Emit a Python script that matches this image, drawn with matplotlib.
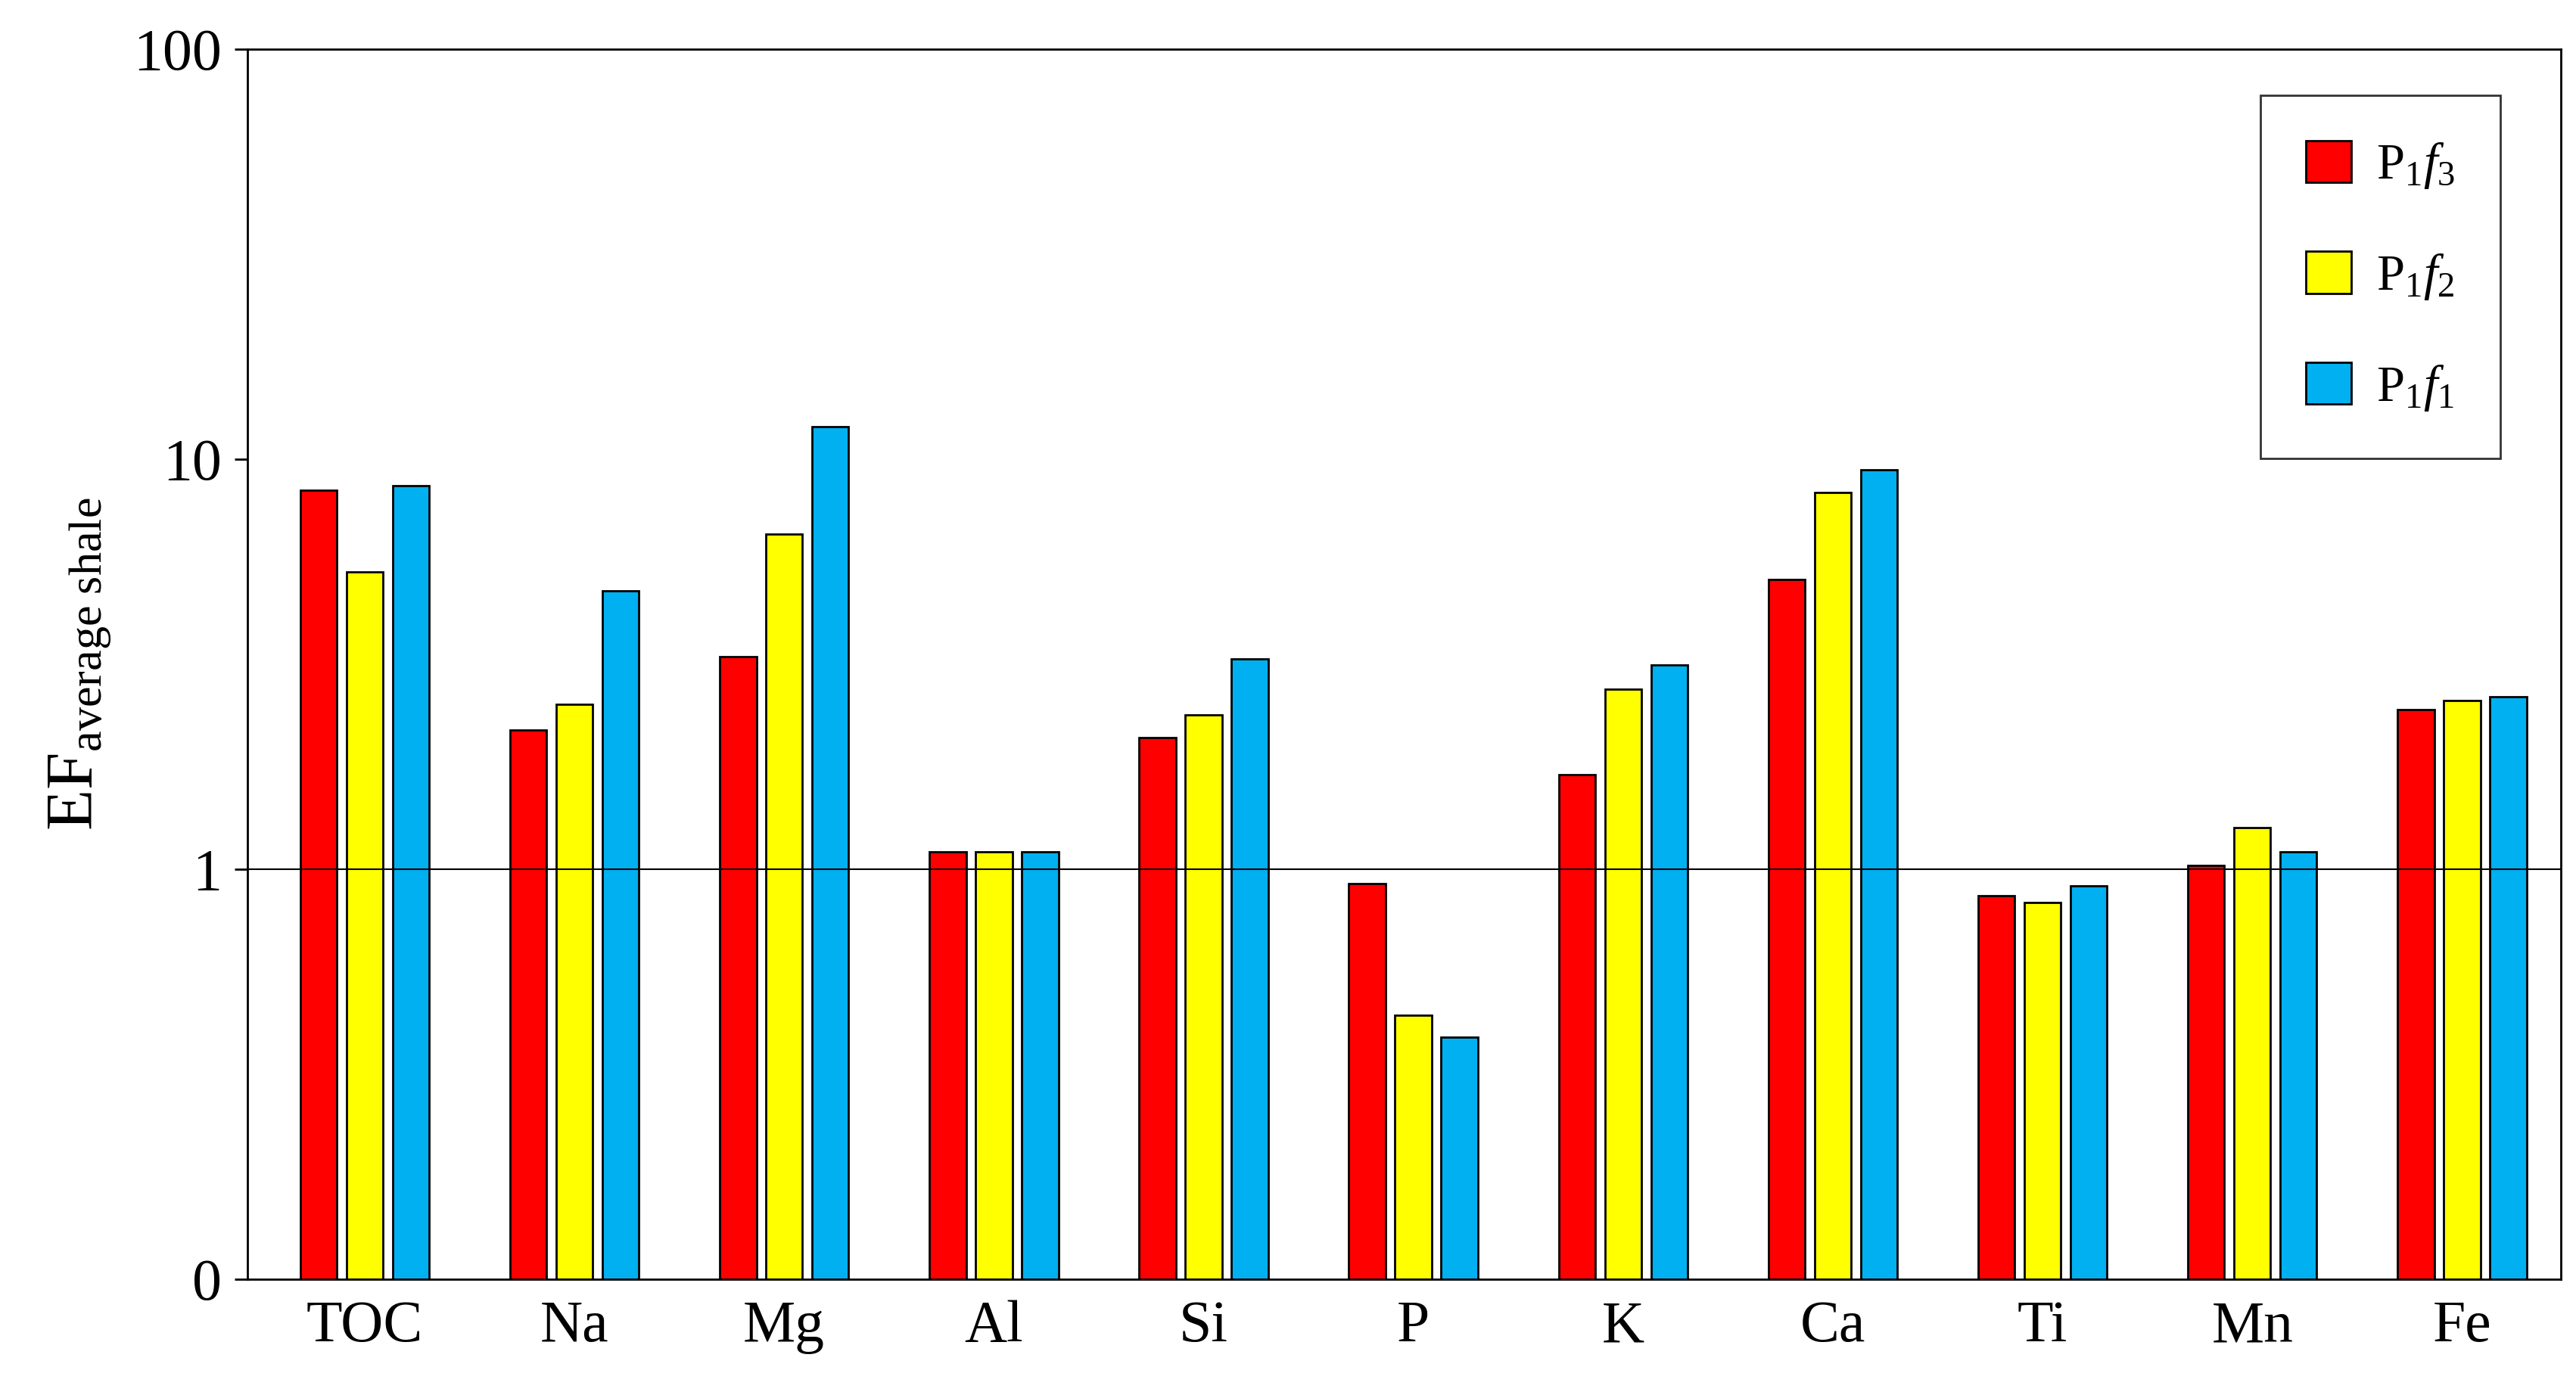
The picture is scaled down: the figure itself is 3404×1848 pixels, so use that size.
import matplotlib.pyplot as plt
import numpy as np

plt.rcParams['font.family'] = ['Liberation Serif', 'DejaVu Serif']
plt.rcParams['mathtext.fontset'] = 'custom'
plt.rcParams['mathtext.rm'] = 'Liberation Serif'
plt.rcParams['mathtext.it'] = 'Liberation Serif:italic'

elements = ["TOC", "Na", "Mg", "Al", "Si", "P", "K", "Ca", "Ti", "Mn", "Fe"]
p1f3 = [8.3, 2.08, 3.19, 1.0, 1.99, 0.82, 1.6, 4.98, 0.76, 0.92, 2.35]
p1f2 = [5.2, 2.42, 6.46, 1.0, 2.28, 0.34, 2.65, 8.2, 0.73, 1.16, 2.48]
p1f1 = [8.5, 4.67, 11.9, 1.0, 3.16, 0.29, 3.05, 9.3, 0.81, 1.0, 2.53]

series = [
    (p1f3, "#FF0000", r"P$_{1}$$f_{3}$"),
    (p1f2, "#FFFF00", r"P$_{1}$$f_{2}$"),
    (p1f1, "#00B0F0", r"P$_{1}$$f_{1}$"),
]

fig = plt.figure(figsize=(34.04, 18.48), dpi=100)
ax = fig.add_axes([0.096, 0.085, 0.898, 0.88])

x = np.arange(len(elements))
w = 0.175
for i, (vals, col, lab) in enumerate(series):
    ax.bar(x + (i - 1) * 0.22, vals, w, bottom=0.1, color=col,
           edgecolor="black", linewidth=2, label=lab)

ax.set_yscale("log")
ax.set_ylim(0.1, 100)
ax.set_xlim(-0.56, 10.47)
ax.axhline(1, color="black", linewidth=1.5)
ax.set_yticks([0.1, 1, 10, 100])
ax.set_yticklabels(["0", "1", "10", "100"])
ax.minorticks_off()
ax.set_xticks(x)
ax.set_xticklabels(elements)
ax.tick_params(axis="both", labelsize=56, length=0, pad=20)
ax.tick_params(axis="y", length=12, width=2, direction="out", pad=12)
for s in ax.spines.values():
    s.set_linewidth(2)

ax.set_ylabel(r"EF$_{\mathrm{average\ shale}}$", fontsize=64, labelpad=20)

leg = ax.legend(loc="upper right", fontsize=48, frameon=True, fancybox=False,
                edgecolor="black", labelspacing=1.2, handlelength=0.9,
                handleheight=0.9, borderpad=0.9, handletextpad=0.5,
                bbox_to_anchor=(0.985, 0.983))
leg.get_frame().set_linewidth(2)

fig.savefig("out.png", dpi=100)
